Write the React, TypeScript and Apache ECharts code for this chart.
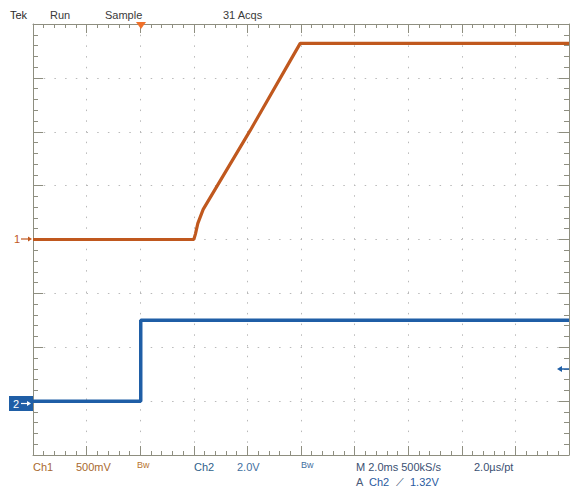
import React, { useEffect, useRef } from "react";
import * as echarts from "echarts";

// Time axis in ms (2.0 ms/div, trigger at t = 0)
const timeTicks = { min: -4, max: 16, interval: 2 };
// Ch1: 500 mV/div, reference at screen centre
const ch1Axis = { min: -2, max: 2, interval: 0.5 };
// Ch2: 2.0 V/div, reference 3 div below centre
const ch2Axis = { min: -2, max: 14, interval: 2 };

// Ch1 trace (ms, V)
const ch1Time = [-4, 2.0, 2.06, 2.15, 2.35, 4.1, 5.6, 5.97, 16];
const ch1Volts = [0, 0, 0.05, 0.15, 0.28, 1.01, 1.66, 1.82, 1.82];

// Ch2 trace (ms, V)
const ch2Time = [-4, 0.02, 0.02, 16];
const ch2Volts = [0, 0, 3.0, 3.0];

const headerTexts = ["Tek", "Run", "Sample", "31 Acqs"];
const footerTexts = ["Ch1", "500mV", "Bw", "Ch2", "2.0V", "Bw", "M 2.0ms 500kS/s", "2.0µs/pt"];
const triggerTexts = ["A", "Ch2", "⟋", "1.32V"];

const FRAME = "#8e8e80";
const GRID = "#b9b9b9";
const C1 = "#c0581e";
const C2 = "#1f5ea6";
const FONT = "'Liberation Sans', Arial, sans-serif";

export default function App() {
  const ref = useRef<HTMLDivElement>(null);
  useEffect(() => {
    if (!ref.current) return;
    const chart = echarts.init(ref.current, undefined, { renderer: "svg" });

    const dotted = { show: true, lineStyle: { color: GRID, width: 1, type: [1.5, 9.2] } };
    const baseX = {
      type: "value",
      min: timeTicks.min,
      max: timeTicks.max,
      interval: timeTicks.interval,
      axisLine: { show: true, onZero: false, lineStyle: { color: FRAME, width: 1 } },
      axisTick: { show: true, inside: true, length: 9, lineStyle: { color: FRAME } },
      minorTick: { show: true, splitNumber: 5, length: 4, lineStyle: { color: FRAME } },
      axisLabel: { show: false },
    };
    const txt = (s: string, x: number, y: number, fill: string, size = 11, extra: any = {}) => ({
      type: "text",
      x,
      y,
      z: 100,
      style: { text: s, fill, font: `${size}px ${FONT}`, textVerticalAlign: "middle", ...extra },
      silent: true,
    });

    const headerX = [10, 50, 105, 223];
    const footerX = [33, 76, 137, 194, 237, 301, 356, 474];
    const footerColors = ["#a8692e", "#a8692e", "#b8752e", "#2f5f8a", "#3f6f9f", "#3f6f9f", "#3a4f72", "#3a4f72"];
    const trigX = [356, 369, 396, 410];
    const trigColors = ["#4a5a78", "#2a5aa0", "#3a4f72", "#2a5aa0"];

    chart.setOption({
      animation: false,
      backgroundColor: "#ffffff",
      grid: { left: 33, right: 2, top: 24, bottom: 36, containLabel: false },
      xAxis: [
        { ...baseX, position: "bottom", splitLine: dotted },
        { ...baseX, position: "top", splitLine: { show: false } },
      ],
      yAxis: [
        {
          type: "value",
          min: ch1Axis.min,
          max: ch1Axis.max,
          interval: ch1Axis.interval,
          position: "left",
          axisLine: { show: true, onZero: false, lineStyle: { color: FRAME, width: 1 } },
          axisTick: { show: true, inside: true, length: 10, lineStyle: { color: FRAME } },
          minorTick: { show: true, splitNumber: 5, length: 5, lineStyle: { color: FRAME } },
          axisLabel: { show: false },
          splitLine: dotted,
        },
        {
          type: "value",
          min: ch2Axis.min,
          max: ch2Axis.max,
          interval: ch2Axis.interval,
          position: "right",
          axisLine: { show: true, onZero: false, lineStyle: { color: FRAME, width: 1 } },
          axisTick: { show: true, inside: true, length: 10, lineStyle: { color: FRAME } },
          minorTick: { show: true, splitNumber: 5, length: 5, lineStyle: { color: FRAME } },
          axisLabel: { show: false },
          splitLine: { show: false },
        },
      ],
      series: [
        {
          name: "Ch2",
          type: "line",
          xAxisIndex: 0,
          yAxisIndex: 1,
          data: ch2Time.map((t, i) => [t, ch2Volts[i]]),
          showSymbol: false,
          lineStyle: { color: C2, width: 3.5 },
          silent: true,
        },
        {
          name: "Ch1",
          type: "line",
          xAxisIndex: 0,
          yAxisIndex: 0,
          data: ch1Time.map((t, i) => [t, ch1Volts[i]]),
          showSymbol: false,
          lineStyle: { color: C1, width: 3.2 },
          silent: true,
        },
      ],
      graphic: [
        ...headerTexts.map((s, i) => txt(s, headerX[i], 15, i === 0 ? "#2a2a2a" : "#3a3a3a")),
        ...footerTexts.map((s, i) =>
          txt(s, footerX[i], i === 2 || i === 5 ? 465 : 467, footerColors[i], i === 2 || i === 5 ? 9 : 11)
        ),
        ...triggerTexts.map((s, i) => txt(s, trigX[i], 482, trigColors[i])),
        // trigger position marker
        { type: "polygon", z: 100, shape: { points: [[136, 22], [146, 22], [141, 29]] }, style: { fill: "#f0702a" }, silent: true },
        // Ch1 ground marker
        txt("1", 14, 239, C1),
        { type: "line", z: 100, shape: { x1: 21, y1: 239, x2: 30, y2: 239 }, style: { stroke: C1, lineWidth: 1.2 }, silent: true },
        { type: "polygon", z: 100, shape: { points: [[28, 236.5], [32, 239], [28, 241.5]] }, style: { fill: C1 }, silent: true },
        // Ch2 ground marker
        { type: "rect", z: 100, shape: { x: 9, y: 396, width: 24, height: 15 }, style: { fill: C2 }, silent: true },
        txt("2", 13, 403.5, "#ffffff"),
        { type: "line", z: 101, shape: { x1: 21, y1: 403.5, x2: 29, y2: 403.5 }, style: { stroke: "#ffffff", lineWidth: 1.2 }, silent: true },
        { type: "polygon", z: 101, shape: { points: [[27, 401], [31, 403.5], [27, 406]] }, style: { fill: "#ffffff" }, silent: true },
        // trigger level marker
        { type: "line", z: 100, shape: { x1: 560, y1: 369, x2: 569, y2: 369 }, style: { stroke: C2, lineWidth: 1.5 }, silent: true },
        { type: "polygon", z: 100, shape: { points: [[562, 366], [557, 369], [562, 372]] }, style: { fill: C2 }, silent: true },
      ],
    });
    return () => chart.dispose();
  }, []);
  return (
    <div
      ref={ref}
      style={{ position: "fixed", left: 0, top: 0, width: 571, height: 491, background: "#fff" }}
    />
  );
}
